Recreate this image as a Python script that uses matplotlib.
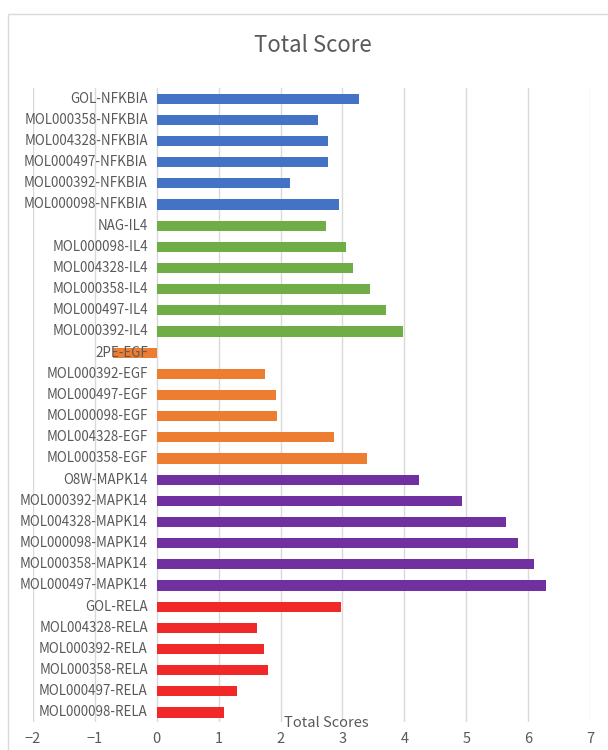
import matplotlib
matplotlib.use("Agg")
import matplotlib.pyplot as plt
from matplotlib.patches import Rectangle
from matplotlib import transforms

plt.rcParams['font.family'] = ['Noto Sans CJK SC', 'DejaVu Sans']
plt.rcParams['font.weight'] = 'light'

# categories top -> bottom
labels = [
    "GOL-NFKBIA", "MOL000358-NFKBIA", "MOL004328-NFKBIA", "MOL000497-NFKBIA",
    "MOL000392-NFKBIA", "MOL000098-NFKBIA",
    "NAG-IL4", "MOL000098-IL4", "MOL004328-IL4", "MOL000358-IL4",
    "MOL000497-IL4", "MOL000392-IL4",
    "2PE-EGF", "MOL000392-EGF", "MOL000497-EGF", "MOL000098-EGF",
    "MOL004328-EGF", "MOL000358-EGF",
    "O8W-MAPK14", "MOL000392-MAPK14", "MOL004328-MAPK14", "MOL000098-MAPK14",
    "MOL000358-MAPK14", "MOL000497-MAPK14",
    "GOL-RELA", "MOL004328-RELA", "MOL000392-RELA", "MOL000358-RELA",
    "MOL000497-RELA", "MOL000098-RELA",
]
scores = [
    3.27, 2.61, 2.77, 2.76, 2.15, 2.95,
    2.74, 3.05, 3.17, 3.45, 3.71, 3.98,
    -0.71, 1.75, 1.92, 1.94, 2.86, 3.40,
    4.23, 4.93, 5.65, 5.83, 6.10, 6.29,
    2.98, 1.62, 1.73, 1.80, 1.30, 1.09,
]
groups = ["NFKBIA"] * 6 + ["IL4"] * 6 + ["EGF"] * 6 + ["MAPK14"] * 6 + ["RELA"] * 6
group_colors = {"NFKBIA": "#4472C4", "IL4": "#70AD47", "EGF": "#ED7D31",
                "MAPK14": "#7030A0", "RELA": "#F02828"}

fig = plt.figure(figsize=(6.08, 7.5), dpi=100)
ax = fig.add_axes([33 / 608, 28 / 750, 557 / 608, 634 / 750])

fig.patches.append(Rectangle((8 / 608, -0.1), 1.2, 1 - 14 / 750 + 0.1,
                             transform=fig.transFigure, fill=False,
                             edgecolor="#D9D9D9", linewidth=1))

pos = list(range(len(labels)))
ax.barh(pos, scores, height=0.48, color=[group_colors[g] for g in groups], zorder=2)

ax.set_xlim(-2, 7)
ax.set_ylim(len(labels) - 0.55, -0.5)
ax.set_xticks(range(-2, 8))
ax.set_yticks([])
ax.grid(axis="x", color="#D9D9D9", linewidth=1, zorder=0)
ax.set_axisbelow(True)

for s in ax.spines.values():
    s.set_visible(False)

# category labels next to the zero line, drawn above the bars
lab_tr = transforms.offset_copy(ax.transData, fig=fig, x=-9, y=0, units="dots")
for p, lab in zip(pos, labels):
    ax.text(0, p, lab, transform=lab_tr, ha="right", va="center",
            fontsize=9.6, color="#595959", zorder=5)

ax.tick_params(axis="x", length=0, pad=7, labelsize=10.5, labelcolor="#595959")

fig.text(0.515, 1 - 46 / 750, "Total Score", ha="center", va="center",
         fontsize=16, color="#595959")
fig.text(326 / 608, 1 - 723 / 750, "Total Scores", ha="center", va="center",
         fontsize=10.5, color="#595959")

fig.savefig("out.png", dpi=100)
